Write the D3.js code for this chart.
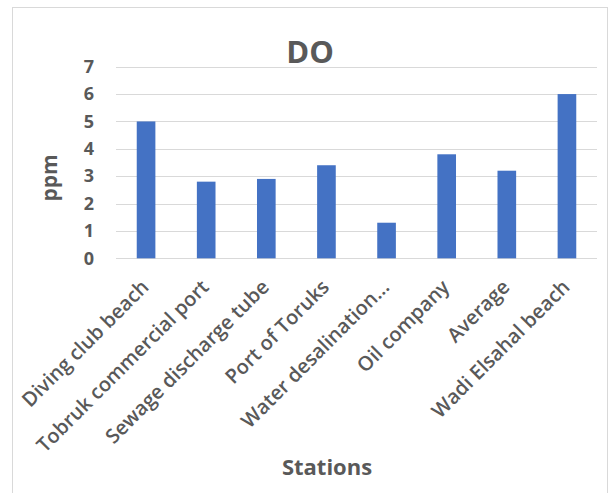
<!DOCTYPE html>
<html><head><meta charset="utf-8">
<script src="https://cdn.jsdelivr.net/npm/d3@7"></script>
<style>html,body{margin:0;padding:0;background:#fff;}svg{display:block;}</style>
</head><body>
<script>
const categories = ["Diving club beach","Tobruk commercial port","Sewage discharge tube","Port of Toruks","Water desalination...","Oil company","Average","Wadi Elsahal beach"];
const values = [5, 2.8, 2.9, 3.4, 1.3, 3.8, 3.2, 6];
const yTicks = [0,1,2,3,4,5,6,7];
const title = "DO";
const yTitle = "ppm";
const xTitle = "Stations";

const W = 610, H = 493;
const svg = d3.select("body").append("svg").attr("width", W).attr("height", H);
svg.append("rect").attr("x",12.5).attr("y",7.5).attr("width",595).attr("height",500)
  .attr("fill","#fff").attr("stroke","#d9d9d9").attr("stroke-width",1);

const x = d3.scaleBand().domain(categories).range([116, 597]).paddingInner(0.69).paddingOuter(0.345);
const y = d3.scaleLinear().domain([0,7]).range([258.3, 66.7]);
const txt = "#595959";
const font = "'Open Sans', sans-serif";

// gridlines
svg.append("g").selectAll("line").data(yTicks).join("line")
  .attr("x1",116).attr("x2",597).attr("y1",d=>Math.round(y(d))+0.5).attr("y2",d=>Math.round(y(d))+0.5)
  .attr("stroke","#d9d9d9").attr("stroke-width",1);

// bars
svg.append("g").selectAll("rect").data(values).join("rect")
  .attr("x",(d,i)=>x(categories[i])).attr("width",x.bandwidth())
  .attr("y",d=>y(d)).attr("height",d=>y(0)-y(d)).attr("fill","#4472c4");

// y axis via d3 axis
const yAxis = svg.append("g").attr("transform","translate(116,0)")
  .call(d3.axisLeft(y).tickValues(yTicks).tickSize(0).tickPadding(22).tickFormat(d3.format("d")));
yAxis.select(".domain").remove();
yAxis.selectAll("text").attr("fill",txt).style("font-family",font).style("font-size","18px").style("font-weight","700");

// x axis labels
const xAxis = svg.append("g").attr("transform","translate(0,258.3)")
  .call(d3.axisBottom(x).tickSize(0).tickPadding(0));
xAxis.select(".domain").remove();
xAxis.selectAll("text")
  .attr("fill",txt).style("font-family",font).style("font-size","20px").style("font-weight","600")
  .attr("text-anchor","end").attr("dy",null).attr("y",0)
  .attr("transform","translate(4,30) rotate(-45)");

// titles
svg.append("text").attr("x",310).attr("y",62.5).attr("text-anchor","middle")
  .attr("fill",txt).style("font-family",font).style("font-size","31px").style("font-weight","700").text(title);
svg.append("text").attr("transform","translate(57,178) rotate(-90)").attr("text-anchor","middle")
  .attr("fill",txt).style("font-family",font).style("font-size","21px").style("font-weight","700").text(yTitle);
svg.append("text").attr("x",327).attr("y",475).attr("text-anchor","middle")
  .attr("fill",txt).style("font-family",font).style("font-size","22px").style("font-weight","700").text(xTitle);
</script>
</body></html>
